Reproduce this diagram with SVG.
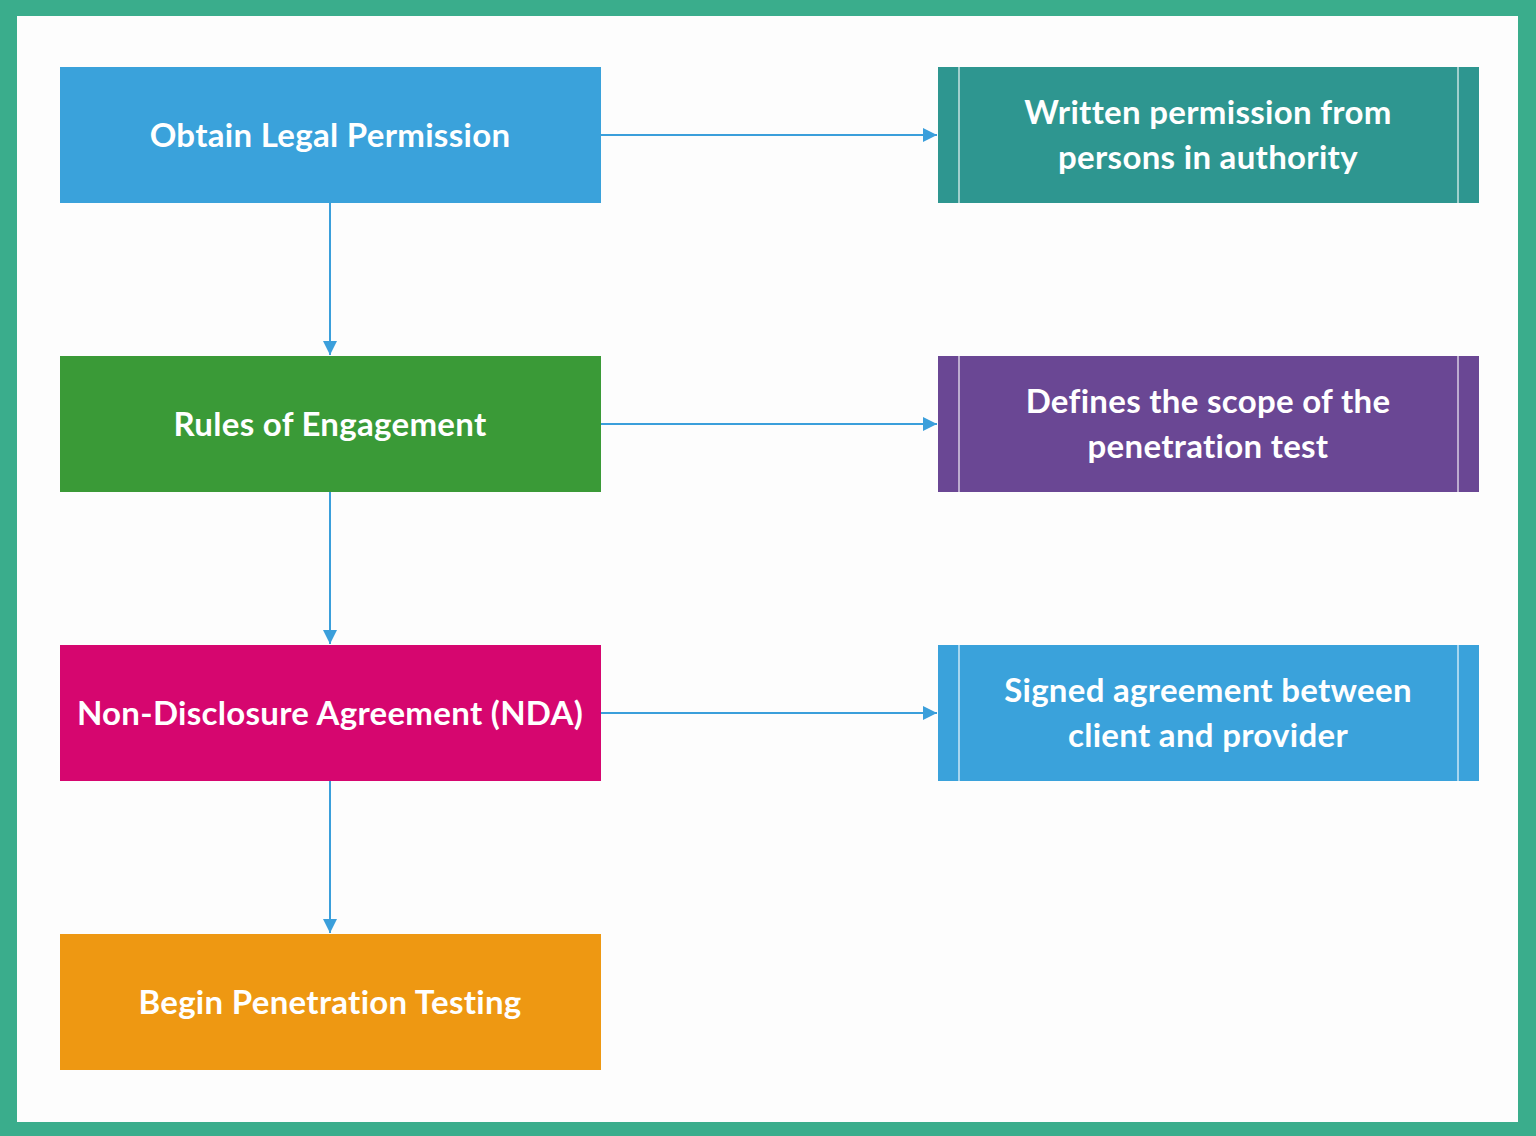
<svg xmlns="http://www.w3.org/2000/svg" width="1536" height="1136" viewBox="0 0 1536 1136">
<defs>
<style>
.t{font-family:Lato,"Open Sans","Liberation Sans",sans-serif;font-weight:bold;font-size:33px;letter-spacing:0.3px;fill:#ffffff;text-anchor:middle;dominant-baseline:central}
.c{stroke:#3B9FDB;stroke-width:2;fill:none}
.sep{stroke:#ffffff;stroke-opacity:0.55;stroke-width:2}
</style>
<marker id="ah" markerWidth="16" markerHeight="16" refX="14" refY="7" orient="auto" markerUnits="userSpaceOnUse" viewBox="0 0 16 14">
<path d="M0,0 L14,7 L0,14 Z" fill="#3B9FDB"/>
</marker>
</defs>
<rect x="0" y="0" width="1536" height="1136" fill="#3AAD8C"/>
<rect x="17" y="16" width="1501" height="1106" fill="#FDFDFD"/>
<g id="connectors">
<line class="c" x1="601" y1="135" x2="937" y2="135" marker-end="url(#ah)"/>
<line class="c" x1="601" y1="424" x2="937" y2="424" marker-end="url(#ah)"/>
<line class="c" x1="601" y1="713" x2="937" y2="713" marker-end="url(#ah)"/>
<line class="c" x1="330" y1="203" x2="330" y2="355" marker-end="url(#ah)"/>
<line class="c" x1="330" y1="492" x2="330" y2="644" marker-end="url(#ah)"/>
<line class="c" x1="330" y1="781" x2="330" y2="933" marker-end="url(#ah)"/>
</g>
<g id="n1">
<rect x="60" y="67" width="541" height="136" fill="#3AA2DB"/>
<text class="t" x="330" y="134">Obtain Legal Permission</text>
</g>
<g id="n2">
<rect x="60" y="356" width="541" height="136" fill="#3A9A37"/>
<text class="t" x="330" y="423">Rules of Engagement</text>
</g>
<g id="n3">
<rect x="60" y="645" width="541" height="136" fill="#D6066F"/>
<text class="t" x="330" y="712">Non-Disclosure Agreement (NDA)</text>
</g>
<g id="n4">
<rect x="60" y="934" width="541" height="136" fill="#EE9812"/>
<text class="t" x="330" y="1001">Begin Penetration Testing</text>
</g>
<g id="r1">
<rect x="938" y="67" width="541" height="136" fill="#2E9690"/>
<line class="sep" x1="959" y1="67" x2="959" y2="203"/>
<line class="sep" x1="1458" y1="67" x2="1458" y2="203"/>
<text class="t" x="1208" y="111">Written permission from</text>
<text class="t" x="1208" y="156">persons in authority</text>
</g>
<g id="r2">
<rect x="938" y="356" width="541" height="136" fill="#6A4794"/>
<line class="sep" x1="959" y1="356" x2="959" y2="492"/>
<line class="sep" x1="1458" y1="356" x2="1458" y2="492"/>
<text class="t" x="1208" y="400">Defines the scope of the</text>
<text class="t" x="1208" y="445">penetration test</text>
</g>
<g id="r3">
<rect x="938" y="645" width="541" height="136" fill="#3AA2DB"/>
<line class="sep" x1="959" y1="645" x2="959" y2="781"/>
<line class="sep" x1="1458" y1="645" x2="1458" y2="781"/>
<text class="t" x="1208" y="689">Signed agreement between</text>
<text class="t" x="1208" y="734">client and provider</text>
</g>
</svg>
